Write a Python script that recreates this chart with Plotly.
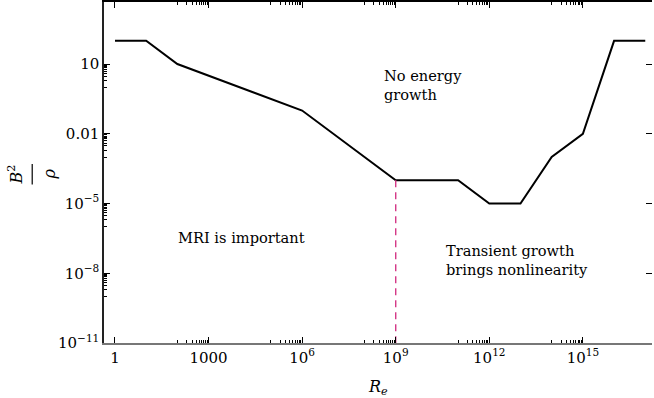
import plotly.graph_objects as go

# ---- data ----
re_vals = [1, 10, 100, 1e6, 1e9, 1e11, 1e12, 1e13, 1e14, 1e15, 1e16, 1e17]
b2_rho = [100, 100, 10, 0.1, 1e-4, 1e-4, 1e-5, 1e-5, 1e-3, 1e-2, 100, 100]

dash_x = [1e9, 1e9]
dash_y = [1e-4, 1e-11]

x_tickvals = [1, 1e3, 1e6, 1e9, 1e12, 1e15]
x_ticktext = ["1", "1000", "10<sup>6</sup>", "10<sup>9</sup>", "10<sup>12</sup>", "10<sup>15</sup>"]
y_tickvals = [10, 0.01, 1e-5, 1e-8, 1e-11]
y_ticktext = ["10", "0.01", "10<sup>−5</sup>", "10<sup>−8</sup>", "10<sup>−11</sup>"]

x_minor_exps = [3, 6, 9, 12, 15]
y_minor_exps = [1, -2, -5, -8]
x_minor = [k * 10.0 ** (n - 1) for n in x_minor_exps for k in range(1, 10)]
y_minor = [k * 10.0 ** (n - 1) for n in y_minor_exps for k in range(1, 10)]

labels = [
    ("No energy<br>growth", 8.57, 0.11),
    ("MRI is important", 1.95, -6.47),
    ("Transient growth<br>brings nonlinearity", 10.54, -7.43),
]

XR = [-0.352, 17.216]
YR = [-11.0, 3.67]
FONT = "DejaVu Serif"

fig = go.Figure()
fig.add_trace(go.Scatter(x=re_vals, y=b2_rho, mode="lines",
                         line=dict(color="black", width=2), showlegend=False,
                         hoverinfo="skip", xaxis="x", yaxis="y"))
fig.add_trace(go.Scatter(x=dash_x, y=dash_y, mode="lines",
                         line=dict(color="rgb(212,55,135)", width=1.4, dash="7px,5px"),
                         showlegend=False, hoverinfo="skip", xaxis="x2", yaxis="y2"))

common_tick = dict(type="log", ticks="inside", ticklen=6, tickwidth=1,
                   tickcolor="black", showgrid=False, zeroline=False)

fig.update_layout(
    width=654, height=398,
    margin=dict(l=104, r=2, t=2, b=55),
    paper_bgcolor="white", plot_bgcolor="white",
    font=dict(family=FONT, size=15, color="black"),
    xaxis=dict(**common_tick, range=XR, tickvals=x_tickvals, ticktext=x_ticktext,
               showline=True, linecolor="#777777", linewidth=1.5,
               tickfont=dict(family=FONT, size=15),
               minor=dict(tickvals=x_minor, ticks="inside", ticklen=3,
                          tickcolor="black", showgrid=False)),
    xaxis2=dict(**common_tick, range=XR, overlaying="x", side="top",
                anchor="y2", tickvals=x_tickvals, showticklabels=False,
                showline=True, linecolor="black", linewidth=1.5,
                minor=dict(tickvals=x_minor, ticks="inside", ticklen=3,
                           tickcolor="black", showgrid=False)),
    yaxis=dict(**common_tick, range=YR, tickvals=y_tickvals, ticktext=y_ticktext,
               showline=True, linecolor="#222222", linewidth=1.5,
               tickfont=dict(family=FONT, size=15),
               minor=dict(tickvals=y_minor, ticks="inside", ticklen=3,
                          tickcolor="black", showgrid=False)),
    yaxis2=dict(**common_tick, range=YR, overlaying="y", side="right",
                anchor="x2", tickvals=y_tickvals, showticklabels=False,
                showline=False),
)

for txt, lx, ly in labels:
    fig.add_annotation(x=lx, y=ly, xref="x", yref="y", text=txt, showarrow=False,
                       xanchor="left", yanchor="middle", align="left",
                       font=dict(family=FONT, size=14.6, color="black"))

# axis titles
fig.add_annotation(x=0.5, y=-0.13, xref="paper", yref="paper",
                   text="<i>R</i><sub><i>e</i></sub>", showarrow=False,
                   xanchor="center", yanchor="middle",
                   font=dict(family=FONT, size=16))
fig.add_annotation(x=-0.162, y=0.495, xref="paper", yref="paper",
                   text="<i>B</i><sup>2</sup>", showarrow=False, textangle=-90,
                   xanchor="center", yanchor="middle",
                   font=dict(family=FONT, size=16))
fig.add_annotation(x=-0.1, y=0.495, xref="paper", yref="paper",
                   text="<i>ρ</i>", showarrow=False, textangle=-90,
                   xanchor="center", yanchor="middle",
                   font=dict(family=FONT, size=16))
fig.add_shape(type="line", xref="paper", yref="paper",
              x0=-0.131, x1=-0.131, y0=0.465, y1=0.525,
              line=dict(color="black", width=1.2))

fig.write_html("out.html")
